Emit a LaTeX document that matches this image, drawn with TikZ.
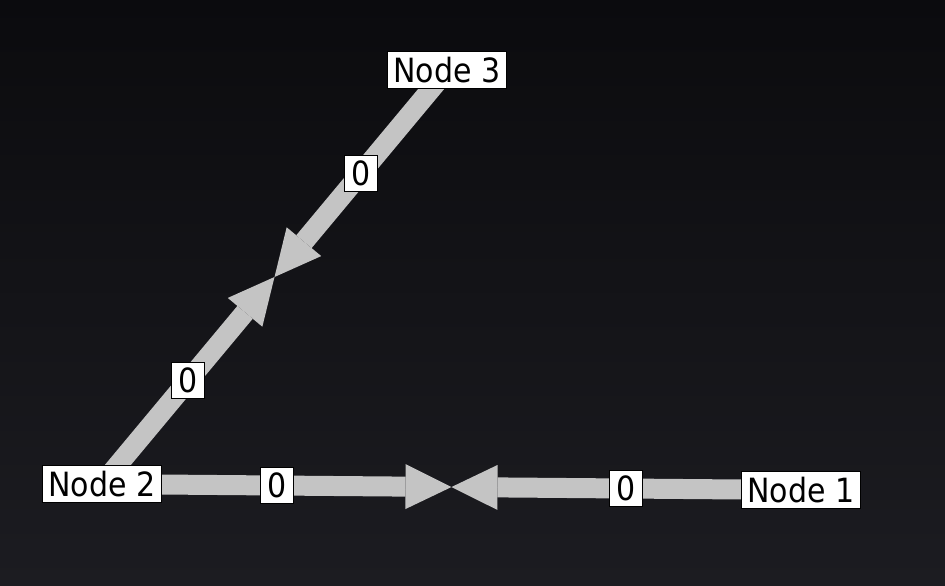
\documentclass[tikz,border=0pt]{standalone}
\usepackage{fontspec}
\setmainfont{DejaVu Sans Condensed}
\usetikzlibrary{positioning, arrows.meta, calc}
\pgfdeclarelayer{bg}
\pgfdeclarelayer{edges}
\pgfsetlayers{bg,edges,main}
\definecolor{canvastop}{HTML}{0B0B0E}
\definecolor{canvasbot}{HTML}{1C1C21}
\definecolor{wire}{HTML}{C4C4C4}

\begin{document}
\begin{tikzpicture}[
  x=0.02cm, y=-0.02cm,
  vertex/.style={draw=black, line width=0.6pt, fill=white, font=\fontsize{19}{19}\selectfont, inner xsep=3.6pt, inner ysep=3.2pt},
  weight/.style={vertex, inner xsep=4pt},
  half/.style={draw=wire, line width=0.4cm, -{Triangle[length=0.92cm, width=0.9cm, line width=0pt]}}
]

% dark canvas
\begin{pgfonlayer}{bg}
  \shade[top color=canvastop, bottom color=canvasbot] (0,0) rectangle (945,585);
\end{pgfonlayer}

\node[vertex] (n3) at (447,70) {Node 3};
\node[vertex] (n2) at (102,484) {Node 2};
\node[vertex] (n1) at (801,490) {Node 1};

% meeting points of the two halves
\coordinate (m12) at ($(n1)!0.5!(n2)$);
\coordinate (m23) at ($(n2)!0.5!(n3)$);

\begin{pgfonlayer}{edges}
  \draw[half] (n2.center) -- (m12) node[weight, pos=0.5] {0};
  \draw[half] (n1.center) -- (m12) node[weight, pos=0.5] {0};
  \draw[half] (n2.center) -- (m23) node[weight, pos=0.5] {0};
  \draw[half] (n3.center) -- (m23) node[weight, pos=0.5] {0};
\end{pgfonlayer}

\end{tikzpicture}
\end{document}
